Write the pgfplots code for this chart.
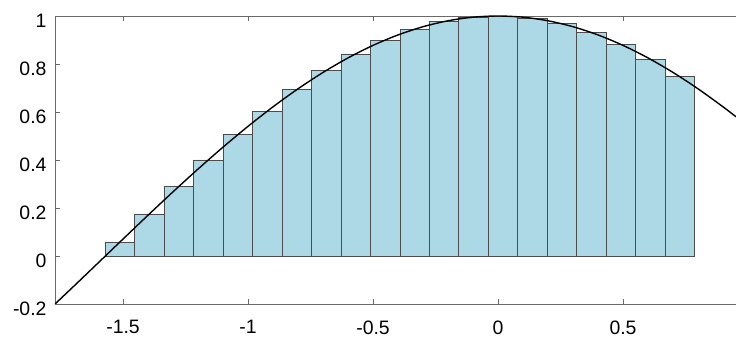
\documentclass[border=0pt]{standalone}
\usepackage{pgfplots}
\pgfplotsset{compat=1.18}
\usepackage{fontspec}
\setmainfont{Liberation Sans}
\definecolor{barblue}{RGB}{173,216,230}
\definecolor{axgray}{RGB}{105,105,105}
\begin{document}
\begin{tikzpicture}
\useasboundingbox (-55bp,-36bp) rectangle (681bp,304bp);
\begin{axis}[
  at={(0,0)}, anchor=south west,
  scale only axis, width=681bp, height=288bp,
  xmin=-1.7722, xmax=0.952, ymin=-0.2, ymax=1,
  axis x line*=box, axis y line*=left,
  axis line style={axgray, line width=0.8bp},
  tick align=inside, major tick length=5bp,
  tick style={axgray, line width=0.8bp},
  xtick={-1.5,-1,-0.5,0,0.5},
  xticklabels={-1.5,-1,-0.5,0,0.5},
  ytick={-0.2,0,0.2,0.4,0.6,0.8,1},
  yticklabels={-0.2,0,0.2,0.4,0.6,0.8,1},
  ticklabel style={font=\fontsize{19.5}{22}\selectfont, text=black},
  xticklabel style={yshift=-13bp},
  yticklabel style={xshift=-5bp, yshift=-5bp},
]
\addplot[ybar interval, fill=barblue, draw=black!70, line width=0.6bp] coordinates {
(-1.570796,0.058871) (-1.452986,0.175796) (-1.335177,0.290285) (-1.217367,0.400749)
(-1.099557,0.505657) (-0.981748,0.603560) (-0.863938,0.693090) (-0.746128,0.773011)
(-0.628319,0.842217) (-0.510509,0.899749) (-0.392699,0.944806) (-0.274889,0.976765)
(-0.157080,0.995185) (-0.039270,0.999807) (0.078540,0.990569) (0.196350,0.967599)
(0.314159,0.931215) (0.431969,0.881922) (0.549779,0.820402) (0.667588,0.747508)
(0.785398,0.747508)
};
\addplot[black, line width=1.4bp, smooth, mark=none] coordinates {
(-1.7722,-0.2000) (-1.7,-0.12884) (-1.6,-0.02920) (-1.5,0.07074) (-1.4,0.16997)
(-1.3,0.26750) (-1.2,0.36236) (-1.1,0.45360) (-1.0,0.54030) (-0.9,0.62161)
(-0.8,0.69671) (-0.7,0.76484) (-0.6,0.82534) (-0.5,0.87758) (-0.4,0.92106)
(-0.3,0.95534) (-0.2,0.98007) (-0.1,0.99500) (0,1) (0.1,0.99500) (0.2,0.98007)
(0.3,0.95534) (0.4,0.92106) (0.5,0.87758) (0.6,0.82534) (0.7,0.76484)
(0.8,0.69671) (0.9,0.62161) (0.952,0.58010)
};
\end{axis}
\end{tikzpicture}
\end{document}
